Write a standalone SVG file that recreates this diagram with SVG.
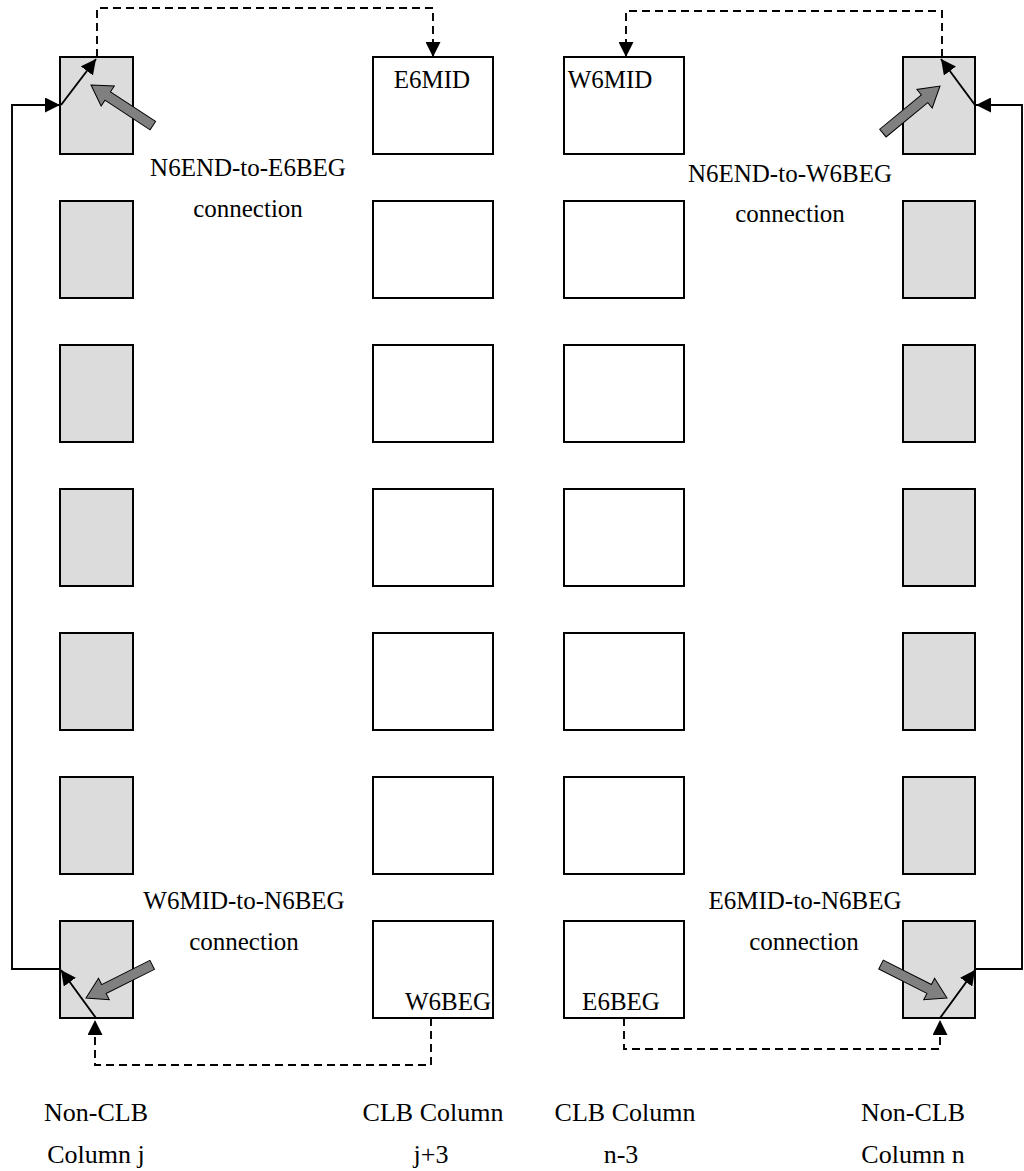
<svg xmlns="http://www.w3.org/2000/svg" width="1024" height="1171" viewBox="0 0 1024 1171">
  <style>
    .clb { fill: #ffffff; stroke: #000000; stroke-width: 2; }
    .nclb { fill: #dcdcdc; stroke: #000000; stroke-width: 2; }
    .txt { font-family: "Liberation Serif", "Times New Roman", "DejaVu Serif", serif; font-size: 25px; fill: #000000; text-anchor: middle; }
    .cap { font-size: 26px; }
    .wire { fill: none; stroke: #000000; stroke-width: 1.9; marker-end: url(#head); }
    .dash { stroke-dasharray: 8 5; }
    .big { fill: #808080; stroke: #000000; stroke-width: 1; }
  </style>
  <defs>
    <marker id="head" markerUnits="userSpaceOnUse" markerWidth="15" markerHeight="15" refX="15" refY="7.5" orient="auto">
      <path d="M0,0 L15,7.5 L0,15 z" fill="#000000"/>
    </marker>
    <!-- thick grey arrow, tip at origin, body along +x -->
    <path id="bigArrow" class="big" d="M0,0 L20,-12 L20,-5 L74,-5 L74,5 L20,5 L20,12 z"/>
  </defs>
  <rect width="1024" height="1171" fill="#ffffff"/>

  <!-- Non-CLB column j -->
  <g id="colj">
    <rect class="nclb" x="60" y="57" width="73" height="97"/>
    <rect class="nclb" x="60" y="201" width="73" height="97"/>
    <rect class="nclb" x="60" y="345" width="73" height="97"/>
    <rect class="nclb" x="60" y="489" width="73" height="97"/>
    <rect class="nclb" x="60" y="633" width="73" height="97"/>
    <rect class="nclb" x="60" y="777" width="73" height="97"/>
    <rect class="nclb" x="60" y="921" width="73" height="97"/>
  </g>

  <!-- CLB column j+3 -->
  <g id="colj3">
    <rect class="clb" x="373" y="57" width="120" height="97"/>
    <rect class="clb" x="373" y="201" width="120" height="97"/>
    <rect class="clb" x="373" y="345" width="120" height="97"/>
    <rect class="clb" x="373" y="489" width="120" height="97"/>
    <rect class="clb" x="373" y="633" width="120" height="97"/>
    <rect class="clb" x="373" y="777" width="120" height="97"/>
    <rect class="clb" x="373" y="921" width="120" height="97"/>
    <text class="txt" x="432" y="88">E6MID</text>
    <text class="txt" x="448" y="1010">W6BEG</text>
  </g>

  <!-- CLB column n-3 -->
  <g id="coln3">
    <rect class="clb" x="564" y="57" width="120" height="97"/>
    <rect class="clb" x="564" y="201" width="120" height="97"/>
    <rect class="clb" x="564" y="345" width="120" height="97"/>
    <rect class="clb" x="564" y="489" width="120" height="97"/>
    <rect class="clb" x="564" y="633" width="120" height="97"/>
    <rect class="clb" x="564" y="777" width="120" height="97"/>
    <rect class="clb" x="564" y="921" width="120" height="97"/>
    <text class="txt" x="610" y="88">W6MID</text>
    <text class="txt" x="621" y="1010">E6BEG</text>
  </g>

  <!-- Non-CLB column n -->
  <g id="coln">
    <rect class="nclb" x="903" y="57" width="72" height="97"/>
    <rect class="nclb" x="903" y="201" width="72" height="97"/>
    <rect class="nclb" x="903" y="345" width="72" height="97"/>
    <rect class="nclb" x="903" y="489" width="72" height="97"/>
    <rect class="nclb" x="903" y="633" width="72" height="97"/>
    <rect class="nclb" x="903" y="777" width="72" height="97"/>
    <rect class="nclb" x="903" y="921" width="72" height="97"/>
  </g>

  <!-- routing -->
  <g id="connectors">
    <!-- left side -->
    <path class="wire" d="M96,1018 L61,970"/>
    <path class="wire" d="M60,969 L12,969 L12,105 L60,105"/>
    <path class="wire" d="M61,105 L96,59"/>
    <path class="wire dash" d="M97,57 L97,8 L433,8 L433,57"/>
    <path class="wire dash" d="M431,1018 L431,1065 L95,1065 L95,1020"/>
    <!-- right side -->
    <path class="wire" d="M940,1018 L975,970"/>
    <path class="wire" d="M976,969 L1022,969 L1022,105 L976,105"/>
    <path class="wire" d="M975,105 L941,59"/>
    <path class="wire dash" d="M942,57 L942,11 L626,11 L626,57"/>
    <path class="wire dash" d="M624,1018 L624,1049 L940,1049 L940,1020"/>
  </g>

  <!-- connection markers -->
  <g id="callouts">
    <use href="#bigArrow" transform="translate(91,85) rotate(33.3)"/>
    <use href="#bigArrow" transform="translate(940,86) rotate(140.5)"/>
    <use href="#bigArrow" transform="translate(86,998) rotate(-26.6)"/>
    <use href="#bigArrow" transform="translate(947,998) rotate(-153.1)"/>
    <text class="txt" x="248" y="176">N6END-to-E6BEG</text>
    <text class="txt" x="248" y="217">connection</text>
    <text class="txt" x="790" y="182">N6END-to-W6BEG</text>
    <text class="txt" x="790" y="222">connection</text>
    <text class="txt" x="244" y="909">W6MID-to-N6BEG</text>
    <text class="txt" x="244" y="950">connection</text>
    <text class="txt" x="805" y="909">E6MID-to-N6BEG</text>
    <text class="txt" x="804" y="950">connection</text>
  </g>

  <!-- column captions -->
  <g id="captions">
    <text class="txt cap" x="96" y="1121">Non-CLB</text>
    <text class="txt cap" x="96" y="1163">Column j</text>
    <text class="txt cap" x="433" y="1121">CLB Column</text>
    <text class="txt cap" x="431" y="1163">j+3</text>
    <text class="txt cap" x="625" y="1121">CLB Column</text>
    <text class="txt cap" x="621" y="1163">n-3</text>
    <text class="txt cap" x="913" y="1121">Non-CLB</text>
    <text class="txt cap" x="913" y="1163">Column n</text>
  </g>
</svg>
